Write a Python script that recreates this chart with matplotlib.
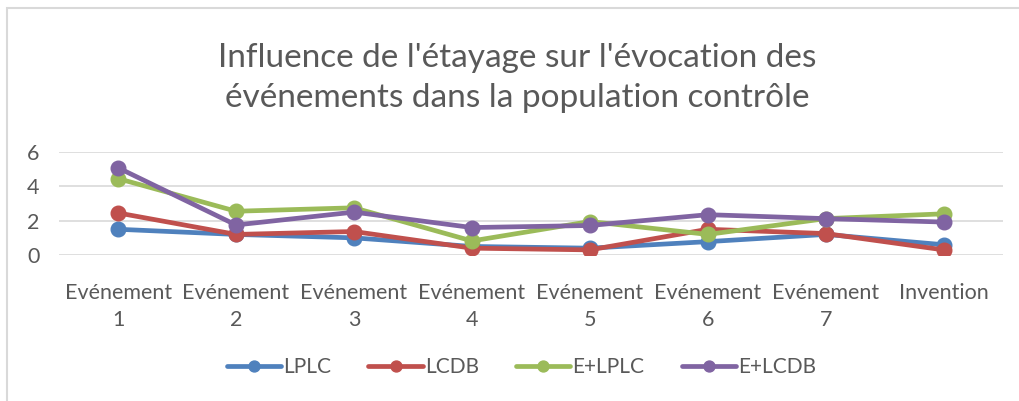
import matplotlib.pyplot as plt
from matplotlib.patches import Rectangle

plt.rcParams['font.family'] = ['Lato', 'DejaVu Sans']

categories = ['Evénement\n1', 'Evénement\n2', 'Evénement\n3', 'Evénement\n4',
              'Evénement\n5', 'Evénement\n6', 'Evénement\n7', 'Invention\n']
lplc = [1.5, 1.2, 1.0, 0.5, 0.4, 0.78, 1.2, 0.6]
lcdb = [2.45, 1.2, 1.37, 0.4, 0.3, 1.5, 1.25, 0.3]
e_lplc = [4.45, 2.55, 2.75, 0.82, 1.95, 1.2, 2.12, 2.4]
e_lcdb = [5.08, 1.75, 2.5, 1.6, 1.72, 2.35, 2.12, 1.92]

series = [('LPLC', lplc, '#4f81bd'), ('LCDB', lcdb, '#c0504d'),
          ('E+LPLC', e_lplc, '#9bbb59'), ('E+LCDB', e_lcdb, '#8064a2')]

fig = plt.figure(figsize=(10.19, 4.01), dpi=100)
ax = fig.add_axes([0.058, 0.364, 0.926, 0.257])

x = range(len(categories))
for name, vals, col in series:
    ax.plot(x, vals, color=col, lw=3.4, marker='o', ms=10.5,
            solid_capstyle='round', label=name)

ax.set_xlim(-0.5, len(categories) - 0.5)
ax.set_ylim(0, 6)
ax.set_yticks([0, 2, 4, 6])
ax.grid(axis='y', color='#d9d9d9', lw=1.2)
ax.set_axisbelow(True)
for s in ax.spines.values():
    s.set_visible(False)
ax.set_xticks(list(x))
ax.set_xticklabels(categories, fontsize=15.5, color='#595959', linespacing=1.45)
ax.tick_params(axis='y', length=0, labelsize=15.5, colors='#595959', pad=14)
ax.tick_params(axis='x', length=0, colors='#595959', pad=20)

fig.text(0.508, 0.805, "Influence de l'étayage sur l'évocation des\névénements dans la population contrôle",
         ha='center', va='center', fontsize=24, color='#595959', linespacing=1.4)

ax.legend(loc='center', bbox_to_anchor=(0.49, -1.09), ncol=4, frameon=False,
          fontsize=15, labelcolor='#595959', handlelength=2.6, columnspacing=1.8,
          handletextpad=0.1, markerscale=0.75)

fig.patches.append(Rectangle((7 / 1019, -0.1), 1.2, 1 - 8 / 401 + 0.1,
                             transform=fig.transFigure, fill=False,
                             edgecolor='#d9d9d9', lw=1.5))

fig.savefig('out.png', dpi=100)
